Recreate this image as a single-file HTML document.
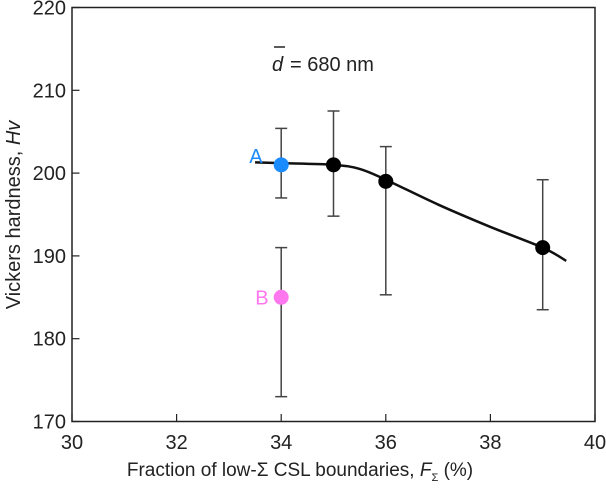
<!DOCTYPE html>
<html><head><meta charset="utf-8"><style>
body{margin:0;background:#fff}
svg text{font-family:"Liberation Sans",sans-serif;fill:#222}
</style></head><body>
<svg width="606" height="483" viewBox="0 0 606 483">
<rect x="72" y="7.5" width="523" height="414" fill="none" stroke="#222" stroke-width="1.5"/>
<g id="ticks"></g>
<g id="marks"></g>
<text x="272" y="71" font-size="20" font-style="italic">d</text>
<line x1="274" y1="47" x2="285" y2="47" stroke="#222" stroke-width="1.5"/>
<text x="290" y="71" font-size="20">= 680 nm</text>
<text transform="translate(20,215) rotate(-90)" text-anchor="middle" font-size="20">Vickers hardness, <tspan font-style="italic">Hv</tspan></text>
<text x="300" y="476" text-anchor="middle" font-size="19">Fraction of low-Σ CSL boundaries, <tspan font-style="italic">F</tspan><tspan font-size="11" dy="5">Σ</tspan><tspan dy="-5"> (%)</tspan></text>
</svg>
<script>
const xTicks=[30,32,34,36,38,40];
const yTicks=[170,180,190,200,210,220];
const xs=[34,35,36,39];
const ys=[201,201,199,191];
const lo=[197,194.8,185.3,183.5];
const hi=[205.4,207.5,203.2,199.2];
const colors=['#1a8cff','#000','#000','#000'];
const bX=[34],bY=[185],bLo=[173],bHi=[191];
const curveX=[33.5,34,35,35.5,36,37,38,39,39.45];
const curveY=[201.3,201.2,201,200.5,199.2,196.2,193.5,191,189.4];
const X=v=>72+(v-30)/10*523, Y=v=>421.5-(v-170)/50*414;
const NS='http://www.w3.org/2000/svg';
const tg=document.getElementById('ticks'),mg=document.getElementById('marks');
function mk(p,tag,a){const e=document.createElementNS(NS,tag);for(const k in a)e.setAttribute(k,a[k]);p.appendChild(e);return e;}
xTicks.forEach(t=>{
 const l=mk(tg,'line',{x1:X(t),x2:X(t),y1:421.5,y2:414,stroke:'#222','stroke-width':1.2});
 
 
 const s=mk(tg,'text',{x:X(t),y:449,'text-anchor':'middle','font-size':20});s.textContent=t;
 
 
});
yTicks.forEach(t=>{
 const l=mk(tg,'line',{x1:72,x2:79.5,y1:Y(t),y2:Y(t),stroke:'#222','stroke-width':1.2});
 
 
 const s=mk(tg,'text',{x:66,y:Y(t)+7,'text-anchor':'end','font-size':20});s.textContent=t;
 
 
});
function eb(x,l,h){
 const g=mk(mg,'g',{stroke:'#444','stroke-width':1.5});
 
 
 mk(g,'line',{x1:X(x),x2:X(x),y1:Y(l),y2:Y(h)});
 mk(g,'line',{x1:X(x)-6,x2:X(x)+6,y1:Y(l),y2:Y(l)});
 mk(g,'line',{x1:X(x)-6,x2:X(x)+6,y1:Y(h),y2:Y(h)});
}
xs.forEach((x,i)=>eb(x,lo[i],hi[i]));
bX.forEach((x,i)=>eb(x,bLo[i],bHi[i]));
let d='M'+X(curveX[0])+','+Y(curveY[0]);
for(let i=0;i<curveX.length-1;i++){
 const p0=i>0?i-1:i,p3=i+2<curveX.length?i+2:i+1;
 const x0=X(curveX[p0]),y0=Y(curveY[p0]),x1=X(curveX[i]),y1=Y(curveY[i]),x2=X(curveX[i+1]),y2=Y(curveY[i+1]),x3=X(curveX[p3]),y3=Y(curveY[p3]);
 d+=` C${x1+(x2-x0)/6},${y1+(y2-y0)/6} ${x2-(x3-x1)/6},${y2-(y3-y1)/6} ${x2},${y2}`;
}
const c=mk(mg,'path',{d:d,fill:'none',stroke:'#111','stroke-width':2.5});


xs.forEach((x,i)=>{
 const p=mk(mg,'circle',{cx:X(x),cy:Y(ys[i]),r:7.5,fill:colors[i]});
 
 
});
bX.forEach((x,i)=>{
 const p=mk(mg,'circle',{cx:X(x),cy:Y(bY[i]),r:7.5,fill:'#ff77ee'});
 
 
});
const ta=mk(mg,'text',{x:X(34)-32,y:Y(201)-2,'font-size':20,style:'fill:#1a8cff'});ta.textContent='A';


const tb=mk(mg,'text',{x:X(34)-26,y:Y(185)+7,'font-size':20,style:'fill:#ff77ee'});tb.textContent='B';


</script>
</body></html>
